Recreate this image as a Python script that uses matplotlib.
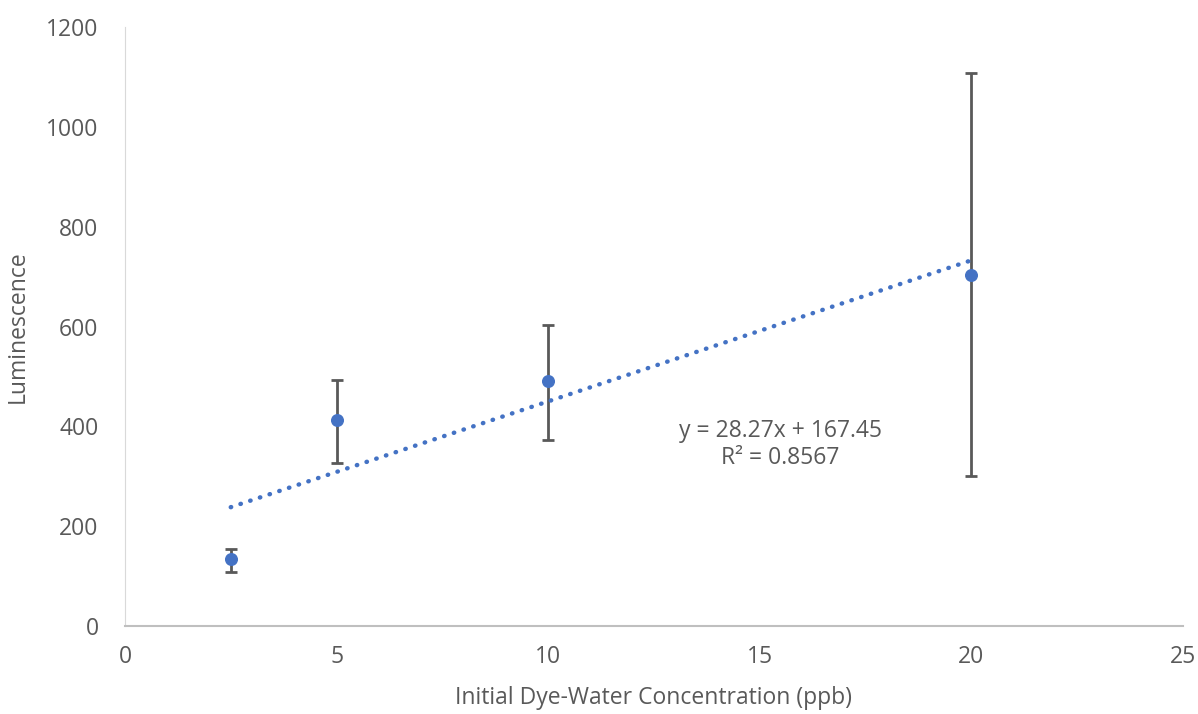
import matplotlib
matplotlib.use("Agg")
import matplotlib.pyplot as plt
import numpy as np

plt.rcParams['font.family'] = ['Open Sans', 'DejaVu Sans']

concentration = [2.5, 5, 10, 20]
luminescence = [135, 412, 491, 704]
err_low = [109, 327, 373, 300]
err_high = [155, 493, 604, 1108]
slope, intercept = 28.27, 167.45
eq_text = "y = 28.27x + 167.45\nR² = 0.8567"

x = np.array(concentration)
y = np.array(luminescence)
yerr = [y - np.array(err_low), np.array(err_high) - y]

fig = plt.figure(figsize=(11.98, 7.14), dpi=100)
ax = fig.add_axes([0.1043, 0.1232, 0.8832, 0.8388])

gray = '#595959'
blue = '#4472C4'

ax.errorbar(x, y, yerr=yerr, fmt='none', ecolor=gray, elinewidth=2.0, capsize=4.5, capthick=2.0, zorder=2)
ax.scatter(x, y, s=70, color=blue, zorder=3)

xt = np.array([x.min(), x.max()])
ax.plot(xt, slope * xt + intercept, linestyle=(0, (0.1, 2.2)), dash_capstyle='round',
        color=blue, linewidth=3.2, zorder=2.5)

ax.text(15.48, 364, eq_text, ha='center', va='center', fontsize=16.5, color=gray, linespacing=1.2)

ax.set_xlim(0, 25)
ax.set_ylim(0, 1200)
ax.set_xticks([0, 5, 10, 15, 20, 25])
ax.set_yticks(np.arange(0, 1201, 200))
ax.tick_params(axis='y', length=0, labelsize=16.5, labelcolor=gray, pad=19)
ax.tick_params(axis='x', length=0, labelsize=16.5, labelcolor=gray, pad=14)
for s in ['top', 'right']:
    ax.spines[s].set_visible(False)
ax.spines['left'].set_color('#d9d9d9')
ax.spines['bottom'].set_color('#bfbfbf')
ax.spines['bottom'].set_linewidth(1.5)
ax.set_xlabel('Initial Dye-Water Concentration (ppb)', fontsize=16.5, color=gray, labelpad=12)
ax.set_ylabel('Luminescence', fontsize=16.5, color=gray, labelpad=12)

fig.savefig('out.png', dpi=100)
